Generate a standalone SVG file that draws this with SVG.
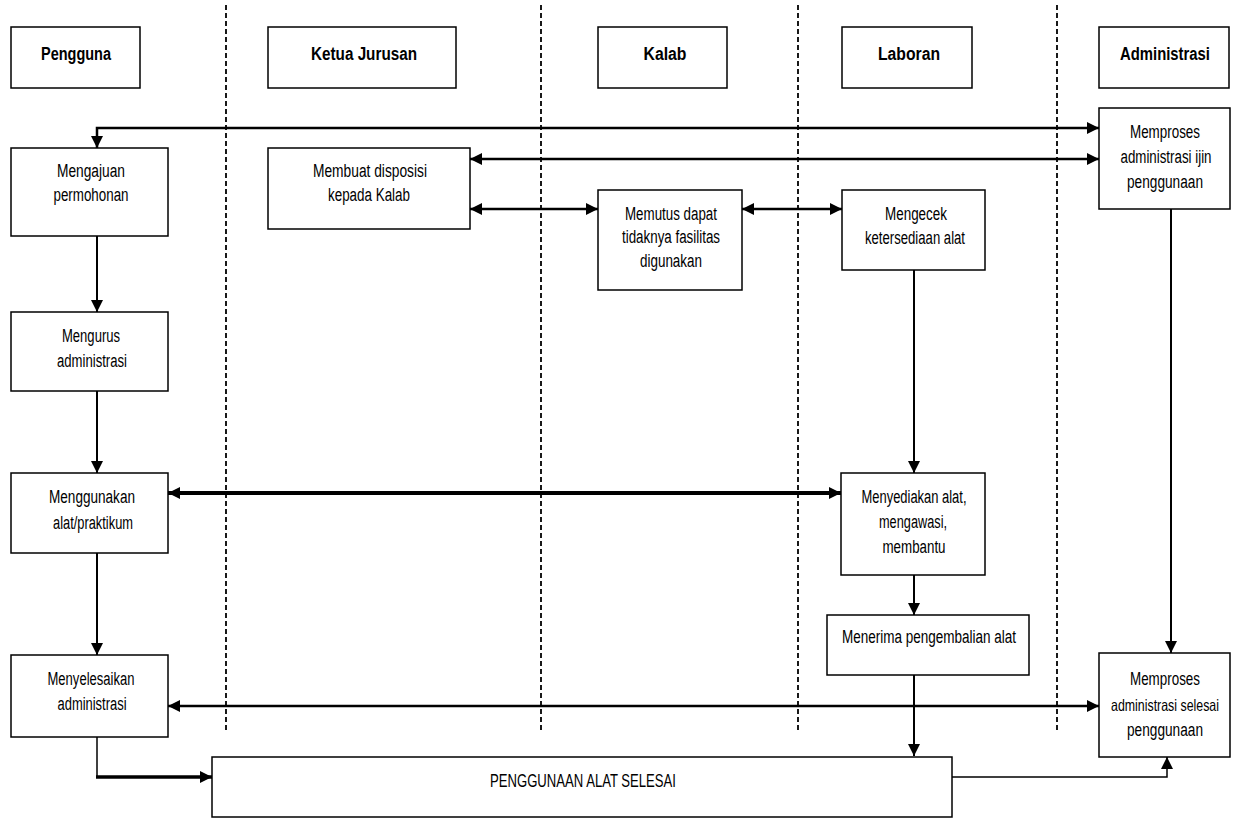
<svg xmlns="http://www.w3.org/2000/svg" width="1246" height="823" viewBox="0 0 1246 823">
<style>
.bx{fill:#fff;stroke:#000;stroke-width:1.5}
.t{font-family:"Liberation Sans Narrow","Liberation Sans",Arial,sans-serif;font-size:18px;fill:#000;text-anchor:middle}
.h{font-weight:bold}
.lane{stroke:#000;stroke-width:1.8;stroke-dasharray:5 3;fill:none}
.c{fill:none;stroke:#000;stroke-width:2.5}
</style>
<defs>
<marker id="ah" viewBox="0 0 12 12" refX="12" refY="6" markerWidth="12" markerHeight="12" markerUnits="userSpaceOnUse" orient="auto-start-reverse"><path d="M0,0 L12,6 L0,12 z" fill="#000"/></marker>
</defs>
<rect width="1246" height="823" fill="#fff"/>
<g id="lanes">
<line class="lane" x1="226" y1="5" x2="226" y2="733"/>
<line class="lane" x1="541" y1="5" x2="541" y2="733"/>
<line class="lane" x1="798" y1="5" x2="798" y2="733"/>
<line class="lane" x1="1057" y1="5" x2="1057" y2="733"/>
</g>
<g id="connectors">
<path class="c" d="M97,148 V128 H1099" marker-start="url(#ah)" marker-end="url(#ah)"/>
<path class="c" d="M470,159 H1099" marker-start="url(#ah)" marker-end="url(#ah)"/>
<path class="c" d="M470,209 H598" marker-start="url(#ah)" marker-end="url(#ah)"/>
<path class="c" d="M742,209 H842" marker-start="url(#ah)" marker-end="url(#ah)"/>
<path class="c" style="stroke-width:2" d="M97,228 V312" marker-end="url(#ah)"/>
<path class="c" style="stroke-width:2" d="M97,391 V473" marker-end="url(#ah)"/>
<path class="c" style="stroke-width:4" d="M168,493 H841" marker-start="url(#ah)" marker-end="url(#ah)"/>
<path class="c" style="stroke-width:2" d="M97,553 V655" marker-end="url(#ah)"/>
<path class="c" d="M168,706 H1099" marker-start="url(#ah)" marker-end="url(#ah)"/>
<path class="c" style="stroke-width:1.5" d="M97,737 V777"/>
<path class="c" style="stroke-width:3.5" d="M96,777 H212" marker-end="url(#ah)"/>
<path class="c" style="stroke-width:2" d="M914,270 V473" marker-end="url(#ah)"/>
<path class="c" style="stroke-width:2" d="M914,575 V615" marker-end="url(#ah)"/>
<path class="c" style="stroke-width:2" d="M914,675 V756" marker-end="url(#ah)"/>
<path class="c" style="stroke-width:2" d="M1171,209 V653" marker-end="url(#ah)"/>
<path class="c" style="stroke-width:1.5" d="M952,777 H1167 V757" marker-end="url(#ah)"/>
<polygon points="84,216 73,229 86,228" fill="#000"/>
</g>
<g id="h-pengguna"><rect class="bx" x="11" y="27" width="129" height="61"/><text class="t h" x="76" y="60" textLength="70" lengthAdjust="spacingAndGlyphs">Pengguna</text></g>
<g id="h-kajur"><rect class="bx" x="268" y="27" width="188" height="61"/><text class="t h" x="364" y="60" textLength="106" lengthAdjust="spacingAndGlyphs">Ketua Jurusan</text></g>
<g id="h-kalab"><rect class="bx" x="598" y="27" width="129" height="61"/><text class="t h" x="665" y="60" textLength="43" lengthAdjust="spacingAndGlyphs">Kalab</text></g>
<g id="h-laboran"><rect class="bx" x="842" y="27" width="130" height="61"/><text class="t h" x="909" y="60" textLength="62" lengthAdjust="spacingAndGlyphs">Laboran</text></g>
<g id="h-admin"><rect class="bx" x="1099" y="27" width="130" height="61"/><text class="t h" x="1165" y="60" textLength="90" lengthAdjust="spacingAndGlyphs">Administrasi</text></g>
<g id="n-mengajuan"><rect class="bx" x="11" y="148" width="157" height="88"/>
<text class="t" x="91" y="177" textLength="68" lengthAdjust="spacingAndGlyphs">Mengajuan</text>
<text class="t" x="91" y="201" textLength="75" lengthAdjust="spacingAndGlyphs">permohonan</text></g>
<g id="n-disposisi"><rect class="bx" x="268" y="148" width="202" height="81"/>
<text class="t" x="370" y="177" textLength="114" lengthAdjust="spacingAndGlyphs">Membuat disposisi</text>
<text class="t" x="369" y="201" textLength="82" lengthAdjust="spacingAndGlyphs">kepada Kalab</text></g>
<g id="n-memutus"><rect class="bx" x="598" y="190" width="144" height="100"/>
<text class="t" x="671" y="220" textLength="92" lengthAdjust="spacingAndGlyphs">Memutus dapat</text>
<text class="t" x="671" y="243" textLength="98" lengthAdjust="spacingAndGlyphs">tidaknya fasilitas</text>
<text class="t" x="671" y="267" textLength="62" lengthAdjust="spacingAndGlyphs">digunakan</text></g>
<g id="n-mengecek"><rect class="bx" x="842" y="190" width="143" height="80"/>
<text class="t" x="916" y="220" textLength="62" lengthAdjust="spacingAndGlyphs">Mengecek</text>
<text class="t" x="915" y="244" textLength="100" lengthAdjust="spacingAndGlyphs">ketersediaan alat</text></g>
<g id="n-ijin"><rect class="bx" x="1099" y="108" width="131" height="101"/>
<text class="t" x="1165" y="138" textLength="70" lengthAdjust="spacingAndGlyphs">Memproses</text>
<text class="t" x="1166" y="163" textLength="91" lengthAdjust="spacingAndGlyphs">administrasi ijin</text>
<text class="t" x="1165" y="188" textLength="76" lengthAdjust="spacingAndGlyphs">penggunaan</text></g>
<g id="n-mengurus"><rect class="bx" x="11" y="312" width="157" height="79"/>
<text class="t" x="91" y="342" textLength="58" lengthAdjust="spacingAndGlyphs">Mengurus</text>
<text class="t" x="92" y="367" textLength="70" lengthAdjust="spacingAndGlyphs">administrasi</text></g>
<g id="n-menggunakan"><rect class="bx" x="11" y="473" width="157" height="80"/>
<text class="t" x="92" y="503" textLength="86" lengthAdjust="spacingAndGlyphs">Menggunakan</text>
<text class="t" x="93" y="529" textLength="80" lengthAdjust="spacingAndGlyphs">alat/praktikum</text></g>
<g id="n-menyediakan"><rect class="bx" x="841" y="473" width="144" height="102"/>
<text class="t" x="914" y="503" textLength="105" lengthAdjust="spacingAndGlyphs">Menyediakan alat,</text>
<text class="t" x="913" y="528" textLength="68" lengthAdjust="spacingAndGlyphs">mengawasi,</text>
<text class="t" x="914" y="553" textLength="63" lengthAdjust="spacingAndGlyphs">membantu</text></g>
<g id="n-menerima"><rect class="bx" x="827" y="615" width="202" height="60"/>
<text class="t" x="929" y="643" textLength="174" lengthAdjust="spacingAndGlyphs">Menerima pengembalian  alat</text></g>
<g id="n-menyelesaikan"><rect class="bx" x="11" y="655" width="157" height="82"/>
<text class="t" x="91" y="685" textLength="87" lengthAdjust="spacingAndGlyphs">Menyelesaikan</text>
<text class="t" x="92" y="710" textLength="69" lengthAdjust="spacingAndGlyphs">administrasi</text></g>
<g id="n-selesai-admin"><rect class="bx" x="1099" y="653" width="131" height="104"/>
<text class="t" x="1165" y="685" textLength="70" lengthAdjust="spacingAndGlyphs">Memproses</text>
<text class="t" style="font-size:16.5px" x="1165" y="711" textLength="108" lengthAdjust="spacingAndGlyphs">administrasi selesai</text>
<text class="t" x="1165" y="736" textLength="76" lengthAdjust="spacingAndGlyphs">penggunaan</text></g>
<g id="n-selesai"><rect class="bx" x="212" y="757" width="740" height="60"/>
<text class="t" x="583" y="787" textLength="186" lengthAdjust="spacingAndGlyphs">PENGGUNAAN ALAT SELESAI</text></g>
</svg>
